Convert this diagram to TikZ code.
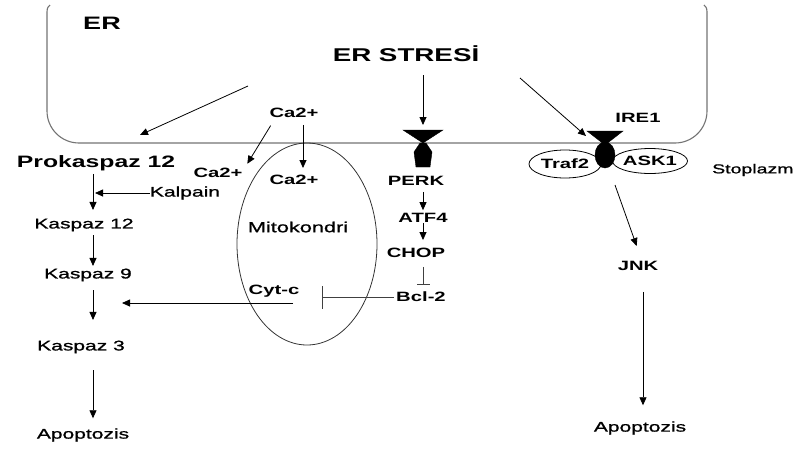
\documentclass[tikz,border=0pt]{standalone}
\usepackage{fontspec}
\setmainfont{Liberation Sans}[FakeStretch=1.5]
\newfontfamily\mediumface{Liberation Sans}[FakeStretch=1.5,FakeBold=1]
\usetikzlibrary{arrows.meta,shapes.geometric}
\begin{document}
\begin{tikzpicture}[x=1pt,y=-1pt,
  every node/.style={inner sep=0pt},
  lbl/.style={font=\mediumface\fontsize{14}{16}\selectfont},
  blbl/.style={font=\bfseries\fontsize{13.5}{16}\selectfont},
  arr/.style={draw=black,line width=0.8pt,-{Triangle[length=8pt,width=7pt]}},
  inh/.style={draw=black!75,line width=0.8pt,-{Bar[width=#1]}},
  membrane/.style={draw=black!55,line width=1.1pt},
  rec/.style={fill=black,draw=black,line width=0.4pt}]
\useasboundingbox (0,0) rectangle (795,448);

% endoplasmic reticulum outline (top left open)
\draw[membrane] (50,5) .. controls (47,8) .. (47,16) -- (47,111)
  arc[start angle=180,end angle=90,radius=32] -- (675,143)
  arc[start angle=90,end angle=0,radius=32] -- (707,16) .. controls (707,8) .. (704,5);

% mitochondrion
\node[draw=black!80,line width=0.8pt,ellipse,minimum width=140pt,minimum height=202pt] (mitoE) at (307,244) {};

% labels
\node[font=\bfseries\fontsize{18}{20}\selectfont] (er) at (102,23) {ER};
\node[font=\bfseries\fontsize{18.5}{20}\selectfont] (stress) at (406,54) {ER STRESİ};
\node[font=\bfseries\fontsize{16.5}{18}\selectfont] (prok) at (96,163) {Prokaspaz 12};
\node[lbl] (kalp) at (185,193) {Kalpain};
\node[lbl] (k12) at (84,225) {Kaspaz 12};
\node[lbl] (k9) at (88,275) {Kaspaz 9};
\node[lbl] (k3) at (81,347) {Kaspaz 3};
\node[lbl] (apo1) at (83,435) {Apoptozis};
\node[blbl] (ca1) at (294,113) {Ca2+};
\node[blbl] (ca2) at (294,180) {Ca2+};
\node[blbl] (ca3) at (218,173) {Ca2+};
\node[lbl,font=\mediumface\fontsize{14.5}{16}\selectfont] (mito) at (298,227) {Mitokondri};
\node[blbl] (cytc) at (274,291) {Cyt-c};
\node[blbl] (perk) at (416,181) {PERK};
\node[blbl] (atf4) at (423,218) {ATF4};
\node[blbl] (chop) at (416,253) {CHOP};
\node[blbl] (bcl) at (421,297) {Bcl-2};
\node[blbl] (ire) at (638,118) {IRE1};
\node[lbl,font=\mediumface\fontsize{13}{15}\selectfont,anchor=west] (stop) at (712,170) {Stoplazm};
\node[blbl] (jnk) at (638,266) {JNK};
\node[lbl] (apo2) at (640,428) {Apoptozis};

% adaptor proteins of IRE1
\node[draw=black,line width=0.8pt,ellipse,minimum width=72pt,minimum height=28pt] (trafE) at (565,164) {};
\node[blbl] (traf) at (565,164) {Traf2};
\node[draw=black,line width=0.8pt,ellipse,minimum width=75pt,minimum height=25pt] (askE) at (650,161) {};
\node[blbl] (ask) at (650,161) {ASK1};

% receptors in the membrane
\coordinate (perkR) at (423,130);
\coordinate (ireR) at (605,131);
\fill[rec] (403,130) -- (443,130) -- (423,143) -- cycle;
\fill[rec] (420,143) -- (426,143) -- (432,152) -- (430,167) -- (416,167) -- (414,152) -- cycle;
\fill[rec] (587,131) -- (623,131) -- (605,145) -- cycle;
\fill[rec] (605,155) ellipse[x radius=10,y radius=13];

% helper coordinates
\coordinate (col) at (93,0);
\coordinate (col2) at (423,0);
\coordinate (leftS) at (248,86);
\coordinate (leftT) at (140,135);
\coordinate (rightS) at (520,78);
\coordinate (cytS) at (293,303);
\coordinate (cytT) at (122,303);
\coordinate (cytB) at (322,297);
\coordinate (jnkS) at (615,185);

% ER stress signals
\draw[arr] (leftS) -- (leftT);
\draw[arr,shorten <=13pt,shorten >=5pt] (stress.south -| perkR) -- (perkR);
\draw[arr] (rightS) -- ([xshift=-19pt,yshift=-5pt]ireR);

% calcium
\draw[arr,shorten <=7pt,shorten >=7pt] ([xshift=9pt]ca1.south) -- ([xshift=9pt]ca2.north);
\draw[arr,shorten <=9pt,shorten >=5pt] ([xshift=6pt]ca1.south west) -- ([xshift=2pt]ca3.north east);

% caspase cascade
\draw[arr,shorten <=3pt,shorten >=8.5pt] (prok.south -| col) -- (k12.north -| col);
\draw[arr,shorten >=2pt] (kalp.west) -- (kalp.west -| col);
\draw[arr,shorten <=3.5pt,shorten >=2.5pt] (k12.south -| col) -- (k9.north -| col);
\draw[arr,shorten <=8.5pt,shorten >=20.5pt] (k9.south -| col) -- (k3.north -| col);
\draw[arr,shorten <=16.5pt,shorten >=10pt] (k3.south -| col) -- (apo1.north -| col);
\draw[arr] (cytS) -- (cytT);

% PERK branch
\draw[arr,shorten <=6pt,shorten >=3pt] (perk.south -| col2) -- (atf4.north -| col2);
\draw[arr,shorten <=0pt,shorten >=8pt] (atf4.south -| col2) -- (chop.north -| col2);
\draw[inh=13pt,shorten <=9pt,shorten >=7pt] (chop.south -| col2) -- (bcl.north -| col2);
\draw[inh=23pt,shorten <=2pt] (bcl.west) -- (cytB);

% IRE1 branch
\draw[arr,shorten >=16pt] (jnkS) -- ([xshift=4pt]jnk.north);
\draw[arr,shorten <=21pt,shorten >=16pt] ([xshift=5pt]jnk.south) -- ([xshift=3pt]apo2.north);
\end{tikzpicture}
\end{document}
